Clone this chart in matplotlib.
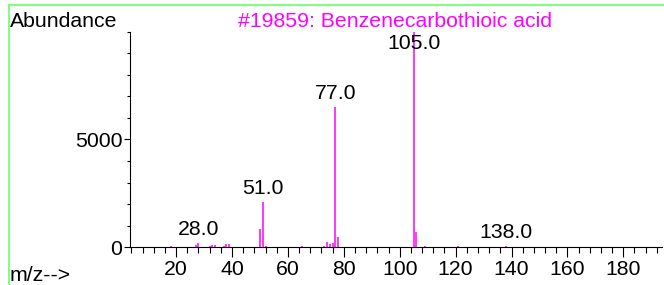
import matplotlib
matplotlib.use("Agg")
import matplotlib.pyplot as plt
from matplotlib.lines import Line2D
from matplotlib.ticker import MultipleLocator, FixedLocator

plt.rcParams['font.family'] = ['Liberation Sans', 'DejaVu Sans']

# peaks
mz = [14, 18, 27, 28, 32, 33, 34, 37, 38, 39, 45, 50, 51, 52, 57, 62, 63, 65,
      69, 73, 74, 75, 76, 77, 78, 93, 105, 106, 107, 109, 121, 137, 138]
abundance = [15, 80, 106, 199, 70, 90, 106, 70, 150, 170, 20, 847, 2110, 75, 15, 30, 30, 50,
             30, 50, 245, 150, 213, 6500, 463, 15, 9999, 722, 30, 60, 40, 20, 50]
labeled_mz = [28, 51, 77, 105, 138]

title = "#19859: Benzenecarbothioic acid"
magenta = "#ff00ff"

fig = plt.figure(figsize=(6.64, 2.85), dpi=100)
ax = fig.add_axes([0.1958, 0.1323, 0.801, 0.7565])

ax.vlines(mz, 0, abundance, color=magenta, linewidth=1.1)

ax.set_xlim(3.5, 193.8)
ax.set_ylim(0, 10000)

for m in labeled_mz:
    v = abundance[mz.index(m)]
    ax.annotate(f"{m:.1f}", (m, min(v, 8800)), xytext=(0, 3), textcoords="offset points",
                ha="center", va="bottom", fontsize=15.3, color="black")

ax.spines['top'].set_visible(False)
ax.spines['right'].set_visible(False)
ax.spines['left'].set_linewidth(0.8)
ax.spines['bottom'].set_linewidth(0.8)

ax.xaxis.set_major_locator(FixedLocator(range(20, 181, 20)))
ax.xaxis.set_minor_locator(MultipleLocator(4))
ax.yaxis.set_major_locator(FixedLocator([0, 5000]))
ax.yaxis.set_minor_locator(MultipleLocator(1000))
ax.tick_params(axis='x', which='major', direction='out', length=7.5, width=0.8, pad=2, labelsize=15.3)
ax.tick_params(axis='x', which='minor', direction='out', length=4, width=0.8)
ax.tick_params(axis='y', which='major', direction='out', length=4, width=0.8, pad=1.5, labelsize=15.3)
ax.tick_params(axis='y', which='minor', direction='out', length=2, width=0.8)

# header and axis captions
fig.text(10 / 664, 1 - 27 / 285, "Abundance", fontsize=15.3, ha="left", va="baseline")
fig.text(395 / 664, 1 - 27 / 285, title, fontsize=15.3, ha="center", va="baseline", color=magenta)
fig.text(10 / 664, 1 - 281 / 285, "m/z-->", fontsize=15.3, ha="left", va="baseline")

# green frame lines
green = "#80ff80"
fig.add_artist(Line2D([9 / 664, 1], [1 - 5 / 285, 1 - 5 / 285], color=green, linewidth=1.5))
fig.add_artist(Line2D([9 / 664, 9 / 664], [0, 1 - 5 / 285], color=green, linewidth=1.5))

fig.savefig("out.png", dpi=100)
